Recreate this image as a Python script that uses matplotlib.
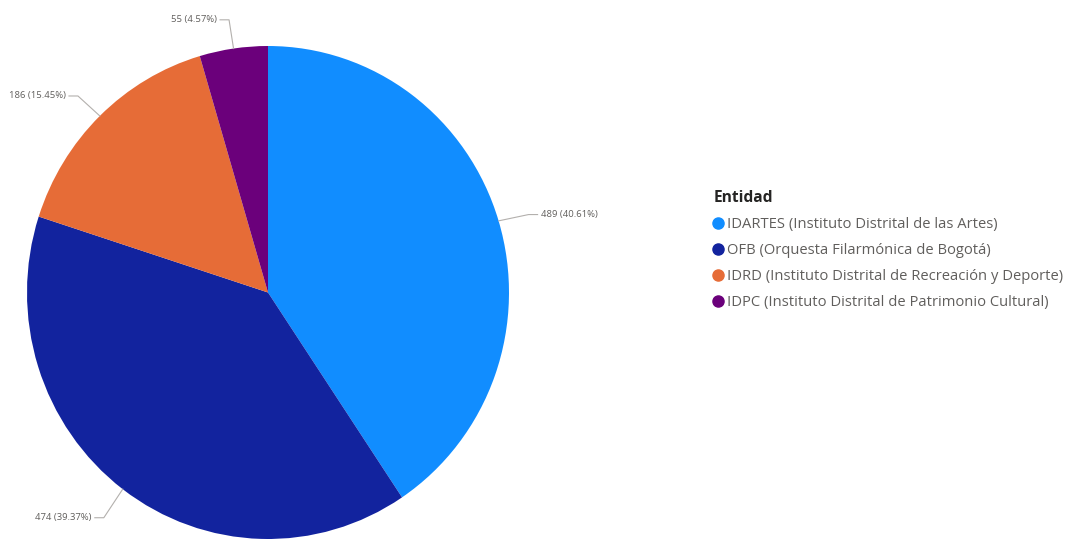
import matplotlib
matplotlib.use('Agg')
import matplotlib.pyplot as plt
from matplotlib.lines import Line2D
import numpy as np

entidades = ['IDARTES (Instituto Distrital de las Artes)',
             'OFB (Orquesta Filarmónica de Bogotá)',
             'IDRD (Instituto Distrital de Recreación y Deporte)',
             'IDPC (Instituto Distrital de Patrimonio Cultural)']
valores = [489, 474, 186, 55]
colores = ['#118DFF', '#12239E', '#E66C37', '#6B007B']

W, H = 1066, 539
fig = plt.figure(figsize=(W / 100, H / 100), dpi=100)

# pie box in pixels (the screenshot is slightly taller than wide)
left, right, top, bottom = 27, 509, 46, 539
cx, cy = (left + right) / 2, H - (top + bottom) / 2
rx, ry = (right - left) / 2, (bottom - top) / 2

axp = fig.add_axes([left / W, (H - bottom) / H, (right - left) / W, (bottom - top) / H])
wedges, _ = axp.pie(valores, colors=colores, startangle=90, counterclock=False,
                    radius=1, frame=True, wedgeprops=dict(linewidth=0))
axp.set_xlim(-1, 1)
axp.set_ylim(-1, 1)
axp.set_aspect('auto')
axp.axis('off')

# overlay in pixel coordinates for leader lines and labels
ax = fig.add_axes([0, 0, 1, 1])
ax.set_xlim(0, W)
ax.set_ylim(0, H)
ax.axis('off')
ax.patch.set_alpha(0)

total = sum(valores)
ly = cy - 3  # labels sit a little lower than the pie centre
for w, v in zip(wedges, valores):
    ang = np.deg2rad((w.theta1 + w.theta2) / 2)
    x0, y0 = cx + rx * np.cos(ang), cy + ry * np.sin(ang)
    x1, y1 = cx + 1.13 * rx * np.cos(ang), ly + 1.13 * ry * np.sin(ang)
    side = 1 if np.cos(ang) >= 0 else -1
    x2 = x1 + side * 9
    ax.plot([x0, x1, x2], [y0, y1, y1], color='#B3B0AD', lw=0.8)
    ax.text(x2 + side * 3, y1, '%d (%.2f%%)' % (v, v / total * 100),
            ha='left' if side > 0 else 'right', va='center',
            fontsize=6.8, color='#605E5C', family='Open Sans')

handles = [Line2D([], [], marker='o', ls='none', markersize=8,
                  markerfacecolor=c, markeredgecolor=c) for c in colores]
leg = ax.legend(handles, entidades, title='Entidad', loc='upper left',
                bbox_to_anchor=(714 / W, 1 - 190 / H), frameon=False,
                alignment='left', handlelength=0.6, handletextpad=0.3,
                labelspacing=0.75, borderaxespad=0, borderpad=0,
                prop={'family': 'Open Sans', 'size': 10.6},
                title_fontproperties={'family': 'Open Sans', 'size': 11.2,
                                      'weight': 'bold'})
leg.get_title().set_color('#252423')
for t in leg.get_texts():
    t.set_color('#605E5C')

fig.savefig('out.png', dpi=100, facecolor='white')
